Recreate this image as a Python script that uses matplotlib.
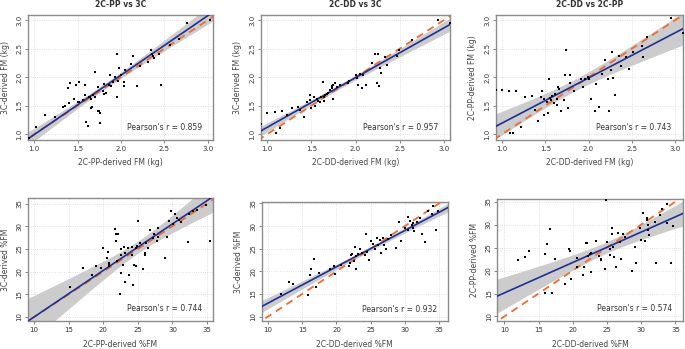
import numpy as np
import matplotlib
matplotlib.use("Agg")
import matplotlib.pyplot as plt

# panel 1: 2C-PP vs 3C (FM, kg)
pp_fm_x = [0.94, 1.02, 1.13, 1.24, 1.33, 1.35, 1.39, 1.41, 1.40, 1.46, 1.48, 1.52, 1.50, 1.52, 1.59,
           1.59, 1.60, 1.62, 1.63, 1.65, 1.66, 1.67, 1.68, 1.70, 1.70, 1.73, 1.74, 1.75, 1.76, 1.76,
           1.79, 1.81, 1.81, 1.83, 1.87, 1.89, 1.91, 1.93, 1.95, 1.95, 1.97, 1.98, 2.00, 2.03, 2.04,
           2.05, 2.12, 2.14, 2.18, 2.31, 2.35, 2.36, 2.37, 2.38, 2.44, 2.46, 2.56, 2.67, 2.76, 3.03,
           1.56, 1.64, 1.86, 2.22]
pp_fm_y = [0.94, 1.12, 1.34, 1.30, 1.47, 1.49, 1.81, 1.90, 1.55, 1.62, 1.87, 1.91, 1.57, 1.57, 1.87,
           1.69, 1.21, 1.15, 1.65, 1.62, 1.46, 1.47, 1.69, 1.66, 2.09, 1.40, 1.83, 1.40, 1.38, 1.19,
           1.75, 1.70, 1.88, 1.73, 2.03, 1.84, 1.91, 2.01, 1.66, 2.41, 1.93, 2.16, 2.04, 1.91, 1.85,
           2.12, 2.24, 2.38, 1.84, 2.26, 2.48, 2.41, 2.37, 2.34, 2.40, 1.87, 2.57, 2.67, 2.95, 3.00,
           1.60, 1.66, 1.86, 2.20]

# panel 2: 2C-DD vs 3C (FM, kg)
dd_fm_x = [0.93, 1.00, 1.09, 1.10, 1.14, 1.17, 1.23, 1.28, 1.35, 1.37, 1.42, 1.45, 1.48, 1.49, 1.50,
           1.53, 1.54, 1.56, 1.58, 1.60, 1.61, 1.63, 1.64, 1.64, 1.66, 1.68, 1.69, 1.71, 1.73, 1.73,
           1.75, 1.75, 1.77, 1.79, 1.82, 1.91, 1.93, 2.00, 2.02, 2.03, 2.05, 2.07, 2.08, 2.12, 2.19,
           2.22, 2.24, 2.26, 2.27, 2.28, 2.29, 2.33, 2.36, 2.47, 2.49, 2.64, 2.93, 3.07]
dd_fm_y = [1.18, 1.38, 1.39, 1.03, 1.11, 1.41, 1.34, 1.46, 1.48, 1.43, 1.30, 1.56, 1.60, 1.68, 1.46,
           1.66, 1.49, 1.62, 1.59, 1.57, 1.66, 1.91, 1.66, 1.59, 1.69, 1.71, 1.73, 1.77, 1.85, 1.81,
           1.87, 1.62, 1.90, 1.83, 1.87, 1.89, 1.93, 2.03, 1.99, 1.87, 2.06, 1.81, 2.03, 1.87, 2.25,
           2.41, 1.90, 2.40, 1.84, 2.16, 2.07, 2.35, 2.21, 2.38, 2.48, 2.66, 3.00, 2.95]

# panel 3: 2C-DD vs 2C-PP (FM, kg)
dp_fm_x = [0.93, 1.00, 1.08, 1.09, 1.13, 1.16, 1.22, 1.27, 1.35, 1.38, 1.42, 1.45, 1.46, 1.48, 1.49,
           1.52, 1.53, 1.54, 1.55, 1.57, 1.58, 1.60, 1.61, 1.63, 1.64, 1.65, 1.66, 1.68, 1.72, 1.73,
           1.74, 1.76, 1.78, 1.79, 1.83, 1.91, 1.93, 1.96, 1.99, 2.01, 2.03, 2.07, 2.09, 2.12, 2.15,
           2.19, 2.23, 2.24, 2.26, 2.27, 2.28, 2.30, 2.35, 2.38, 2.43, 2.47, 2.51, 2.62, 2.63, 2.67,
           2.95, 3.09]
dp_fm_y = [1.77, 1.78, 1.76, 1.03, 1.02, 1.75, 1.13, 1.66, 1.67, 1.42, 1.24, 1.65, 1.75, 1.62, 1.34,
           1.56, 1.37, 1.96, 1.63, 1.60, 1.67, 1.55, 1.70, 1.62, 1.52, 1.83, 1.79, 1.40, 1.60, 2.04,
           2.47, 1.46, 2.03, 1.90, 1.75, 1.96, 1.83, 1.96, 2.00, 1.96, 1.62, 1.40, 1.88, 1.48, 2.06,
           2.31, 1.97, 1.40, 2.12, 2.45, 1.99, 1.69, 2.38, 2.20, 2.35, 2.14, 2.45, 2.54, 2.35, 2.70,
           3.04, 2.78]

# panel 4: 2C-PP vs 3C (%FM)
pp_pc_x = [15.15, 17.1, 18.3, 19.0, 19.6, 19.9, 20.5, 20.7, 20.8, 20.9, 20.9, 21.7, 21.8, 21.9, 22.0,
           22.1, 22.4, 22.5, 22.5, 22.6, 22.8, 23.0, 23.1, 23.2, 23.6, 23.7, 24.1, 24.2, 24.3, 24.4,
           24.7, 24.8, 24.9, 25.0, 25.3, 25.7, 26.0, 26.1, 26.2, 26.5, 26.7, 27.2, 27.4, 27.7, 27.9,
           27.9, 28.9, 29.2, 29.5, 29.8, 30.1, 30.3, 30.7, 31.0, 31.3, 32.3, 32.4, 33.0, 33.5, 34.9,
           35.5]
pp_pc_y = [16.6, 20.8, 19.3, 21.2, 20.8, 25.2, 23.0, 24.3, 21.5, 21.3, 21.8, 29.3, 28.4, 26.7, 22.3,
           28.4, 15.1, 19.7, 24.9, 23.6, 21.4, 25.4, 17.7, 24.2, 25.2, 19.3, 23.75, 25.4, 17.1, 21.4,
           25.1, 21.25, 25.6, 31.1, 26.2, 20.5, 23.75, 24.2, 26.2, 25.2, 29.1, 27.4, 28.2, 26.7, 29.6,
           27.6, 22.9, 27.6, 31.1, 33.3, 30.6, 32.6, 31.8, 31.3, 30.9, 26.5, 32.6, 33.3, 33.5, 34.6,
           26.7]

# panel 5: 2C-DD vs 3C (%FM)
dd_pc_x = [11.9, 13.1, 13.7, 15.9, 16.1, 16.3, 16.75, 17.0, 17.5, 19.1, 19.6, 19.8, 20.7, 21.9, 22.0,
           22.1, 22.2, 22.5, 22.7, 22.8, 22.9, 23.1, 23.5, 23.8, 24.2, 24.3, 24.5, 24.8, 25.1, 25.3,
           25.7, 25.9, 26.1, 26.4, 26.5, 26.8, 27.0, 27.3, 27.5, 27.9, 28.7, 29.1, 29.4, 30.0, 30.4,
           30.5, 30.8, 31.0, 31.2, 31.2, 31.3, 31.7, 32.2, 32.5, 32.9, 33.4, 34.0, 34.1, 34.6, 34.8]
dd_pc_y = [15.0, 17.6, 17.1, 14.7, 19.2, 20.4, 22.8, 16.5, 19.6, 20.6, 21.2, 19.3, 21.3, 21.2, 21.9,
           23.5, 23.9, 22.2, 25.4, 20.6, 23.4, 23.8, 24.9, 24.1, 23.7, 28.3, 24.3, 22.6, 26.6, 26.1,
           25.0, 27.4, 25.8, 26.9, 24.1, 27.4, 25.9, 25.0, 27.1, 28.0, 25.2, 30.9, 26.6, 29.5, 29.1,
           32.0, 31.1, 30.3, 30.6, 29.6, 28.9, 30.9, 31.8, 28.3, 26.5, 33.3, 32.6, 34.5, 29.1, 33.3]

# panel 6: 2C-DD vs 2C-PP (%FM)
dp_pc_x = [11.95, 13.0, 13.65, 15.9, 16.0, 16.2, 16.7, 16.9, 17.4, 18.9, 19.5, 19.6, 19.7, 20.55, 20.65,
           21.5, 21.6, 21.9, 22.1, 22.25, 22.5, 22.6, 22.7, 23.4, 23.9, 24.1, 24.2, 24.7, 24.8, 25.0,
           25.4, 25.5, 25.7, 25.8, 25.9, 26.1, 26.3, 26.6, 26.9, 27.0, 27.35, 27.6, 28.6, 29.1, 29.3,
           29.8, 29.9, 30.3, 30.5, 30.8, 30.9, 31.0, 31.0, 31.2, 32.0, 32.2, 32.7, 33.1, 33.7, 33.8,
           34.4, 34.6]
dp_pc_y = [22.4, 23.0, 24.2, 15.2, 23.7, 25.7, 29.0, 15.2, 22.5, 17.1, 24.65, 24.2, 18.1, 22.75, 20.8,
           19.1, 20.8, 25.9, 25.9, 23.1, 23.7, 19.7, 23.9, 26.4, 23.1, 22.6, 22.2, 20.3, 35.4, 26.25,
           24.8, 23.3, 29.3, 27.9, 25.2, 23.0, 20.8, 28.1, 26.25, 22.5, 27.9, 27.35, 19.8, 25.2, 21.7,
           29.3, 26.6, 32.6, 26.5, 31.0, 31.4, 30.0, 28.8, 27.7, 30.6, 21.7, 32.1, 33.4, 30.3, 34.6,
           21.7, 29.75]

# fitted regression lines
fit_slope = [1.043, 0.871, 0.792, 1.025, 0.803, 0.663]
fit_intercept = [-0.05, 0.250, 0.403, -0.24, 4.94, 8.50]
# half width of the confidence band at the left edge of each panel
band_left = [0.12, 0.085, 0.22, 5.0, 1.3, 3.7]

titles = ["2C-PP vs 3C", "2C-DD vs 3C", "2C-DD vs 2C-PP", "", "", ""]
xlabels = ["2C-PP-derived FM (kg)", "2C-DD-derived FM (kg)", "2C-DD-derived FM (kg)",
           "2C-PP-derived %FM", "2C-DD-derived %FM", "2C-DD-derived %FM"]
ylabels = ["3C-derived FM (kg)", "3C-derived FM (kg)", "2C-PP-derived FM (kg)",
           "3C-derived %FM", "3C-derived %FM", "2C-PP-derived %FM"]
pearson = ["0.859", "0.957", "0.743", "0.744", "0.932", "0.574"]

data = [(pp_fm_x, pp_fm_y), (dd_fm_x, dd_fm_y), (dp_fm_x, dp_fm_y),
        (pp_pc_x, pp_pc_y), (dd_pc_x, dd_pc_y), (dp_pc_x, dp_pc_y)]

# axes boxes in figure fraction, and axis limits
boxes = [[0.041, 0.599, 0.270, 0.358], [0.381, 0.599, 0.276, 0.358], [0.724, 0.599, 0.273, 0.358],
         [0.041, 0.080, 0.270, 0.353], [0.382, 0.080, 0.272, 0.341], [0.726, 0.080, 0.271, 0.350]]
xlims = [(0.93, 3.06), (0.93, 3.07), (0.93, 3.09), (9.13, 35.87), (9.07, 36.3), (8.98, 36.1)]
ylims = [(0.90, 3.09), (0.90, 3.09), (0.90, 3.09), (9.1, 36.25), (9.0, 35.3), (9.0, 35.6)]

fig = plt.figure(figsize=(6.85, 3.49), dpi=100)
txt = "#333333"

for i in range(6):
    ax = fig.add_axes(boxes[i])
    x = np.array(data[i][0])
    y = np.array(data[i][1])
    n = len(x)
    b, a = fit_slope[i], fit_intercept[i]
    xs = np.linspace(xlims[i][0] - 1, xlims[i][1] + 1, 200)
    sxx = np.sum((x - x.mean()) ** 2)
    shape = np.sqrt(1 / n + (xs - x.mean()) ** 2 / sxx)
    shape0 = np.sqrt(1 / n + (xlims[i][0] - x.mean()) ** 2 / sxx)
    hw = band_left[i] * shape / shape0
    fit = a + b * xs
    ax.fill_between(xs, fit - hw, fit + hw, color="#cccccc", lw=0, zorder=1)
    ax.plot(xs, xs, color="#f26b2a", ls=(0, (4, 3)), lw=1.3, zorder=3)
    ax.plot(xs, fit, color="#1f2f99", lw=1.2, zorder=4)
    ax.scatter(x, y, s=3, marker="s", color="black", lw=0, zorder=5)

    ax.set_xlim(xlims[i])
    ax.set_ylim(ylims[i])
    if i < 3:
        ticks = [1.0, 1.5, 2.0, 2.5, 3.0]
        labs = ["1.0", "1.5", "2.0", "2.5", "3.0"]
    else:
        ticks = [10, 15, 20, 25, 30, 35]
        labs = [str(t) for t in ticks]
    ax.set_xticks(ticks)
    ax.set_xticklabels(labs)
    ax.set_yticks(ticks)
    ax.set_yticklabels(labs, rotation=90, va="center")
    ax.tick_params(labelsize=5, colors="#555555", length=2, width=0.5, pad=2, labelcolor=txt)
    ax.grid(True, color="#d8d8d8", ls=":", lw=0.6, zorder=0)
    ax.set_axisbelow(True)
    for sp in ax.spines.values():
        sp.set_color("#8c8c8c")
        sp.set_linewidth(1.0)
    ax.set_xlabel(xlabels[i], fontsize=5.5, color="#444444", labelpad=5)
    ax.set_ylabel(ylabels[i], fontsize=5.5, color="#444444", labelpad=5)
    if titles[i]:
        ax.set_title(titles[i], fontsize=5.5, fontweight="bold", color=txt, pad=6)
    ax.text(0.94, 0.1, "Pearson's r = " + pearson[i], transform=ax.transAxes,
            ha="right", va="center", fontsize=5.5, color=txt)

fig.savefig("out.png", dpi=100)
